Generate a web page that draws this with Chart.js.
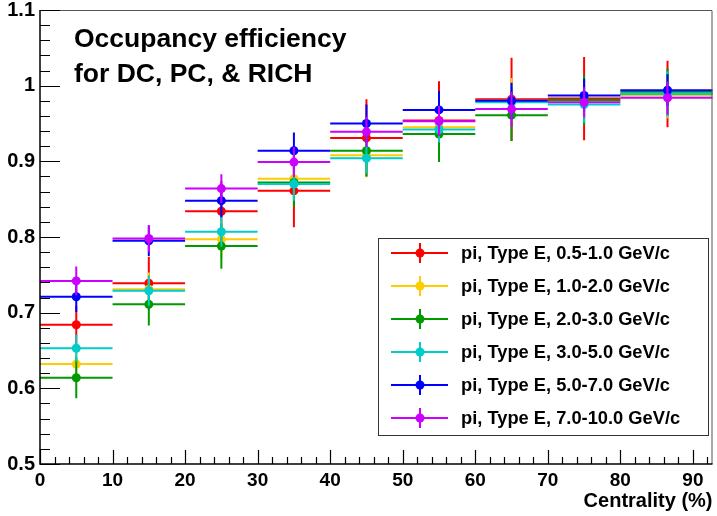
<!DOCTYPE html>
<html>
<head>
<meta charset="utf-8">
<script src="https://cdn.jsdelivr.net/npm/chart.js@4.4.1/dist/chart.umd.min.js"></script>
<style>
  html, body { margin: 0; padding: 0; background: #fff; }
</style>
</head>
<body>
<canvas id="occEff" width="717" height="516"></canvas>
<script>
// centrality bins
const centrality = [5, 15, 25, 35, 45, 55, 65, 75, 86.5];
const binLow = [0, 10, 20, 30, 40, 50, 60, 70, 80];
const binHigh = [10, 20, 30, 40, 50, 60, 70, 80, 93];
const xTickValues = [0, 10, 20, 30, 40, 50, 60, 70, 80, 90];

const seriesLabels = [
    'pi, Type E, 0.5-1.0 GeV/c',
    'pi, Type E, 1.0-2.0 GeV/c',
    'pi, Type E, 2.0-3.0 GeV/c',
    'pi, Type E, 3.0-5.0 GeV/c',
    'pi, Type E, 5.0-7.0 GeV/c',
    'pi, Type E, 7.0-10.0 GeV/c'
];
const seriesColors = ['#ff0000', '#ffcc00', '#009900', '#00cccc', '#0000ff', '#cc00ff'];

// efficiency per pt bin
const eff05to1 = [0.684, 0.739, 0.834, 0.861, 0.931, 0.954, 0.982, 0.983, 0.989];
const eff1to2 = [0.632, 0.731, 0.797, 0.877, 0.908, 0.945, 0.980, 0.980, 0.987];
const eff2to3 = [0.614, 0.711, 0.788, 0.872, 0.914, 0.936, 0.961, 0.981, 0.992];
const eff3to5 = [0.653, 0.729, 0.807, 0.870, 0.904, 0.942, 0.978, 0.975, 0.989];
const eff5to7 = [0.721, 0.795, 0.848, 0.914, 0.950, 0.968, 0.980, 0.987, 0.994];
const eff7to10 = [0.742, 0.798, 0.864, 0.899, 0.939, 0.953, 0.969, 0.978, 0.984];

// statistical errors
const err05to1 = [0.025, 0.035, 0.040, 0.048, 0.051, 0.052, 0.055, 0.055, 0.044];
const err1to2 = [0.020, 0.022, 0.025, 0.028, 0.029, 0.030, 0.030, 0.030, 0.030];
const err2to3 = [0.027, 0.028, 0.030, 0.032, 0.034, 0.037, 0.034, 0.033, 0.031];
const err3to5 = [0.018, 0.020, 0.020, 0.022, 0.020, 0.017, 0.020, 0.024, 0.030];
const err5to7 = [0.020, 0.020, 0.022, 0.024, 0.025, 0.025, 0.024, 0.022, 0.021];
const err7to10 = [0.019, 0.018, 0.019, 0.020, 0.020, 0.020, 0.023, 0.020, 0.022];

const allEff = [eff05to1, eff1to2, eff2to3, eff3to5, eff5to7, eff7to10];
const allErr = [err05to1, err1to2, err2to3, err3to5, err5to7, err7to10];

const FONT = '"Liberation Sans", Arial, Helvetica, sans-serif';

const datasets = allEff.map((vals, i) => ({
    label: seriesLabels[i],
    data: vals.map((v, j) => ({
        x: centrality[j], y: v,
        xMin: binLow[j], xMax: binHigh[j],
        yMin: v - allErr[i][j], yMax: v + allErr[i][j]
    })),
    borderColor: seriesColors[i],
    backgroundColor: seriesColors[i],
    pointRadius: 4.5,
    pointHoverRadius: 4.5,
    pointBorderWidth: 0,
    showLine: false,
    order: allEff.length - i   // later series on top, like ROOT
}));

// error bars drawn just before each dataset's markers
const errorBars = {
    id: 'errorBars',
    beforeDatasetDraw(chart, args) {
        const ds = chart.data.datasets[args.index];
        const xs = chart.scales.x, ys = chart.scales.y;
        const ctx = chart.ctx, a = chart.chartArea;
        ctx.save();
        ctx.beginPath();
        ctx.rect(a.left, a.top, a.right - a.left, a.bottom - a.top);
        ctx.clip();
        ctx.strokeStyle = ds.borderColor;
        ctx.lineWidth = 2;
        ds.data.forEach(p => {
            const px = xs.getPixelForValue(p.x);
            const py = ys.getPixelForValue(p.y);
            ctx.beginPath();
            ctx.moveTo(xs.getPixelForValue(p.xMin), py);
            ctx.lineTo(xs.getPixelForValue(p.xMax), py);
            ctx.moveTo(px, ys.getPixelForValue(p.yMin));
            ctx.lineTo(px, ys.getPixelForValue(p.yMax));
            ctx.stroke();
        });
        ctx.restore();
    }
};

// ROOT style frame with inward ticks
const rootFrame = {
    id: 'rootFrame',
    afterDraw(chart) {
        const ctx = chart.ctx, a = chart.chartArea;
        const xs = chart.scales.x, ys = chart.scales.y;
        ctx.save();
        ctx.strokeStyle = '#555';
        ctx.lineWidth = 1;
        ctx.beginPath();
        ctx.moveTo(a.left, a.top + 0.5); ctx.lineTo(a.right - 0.5, a.top + 0.5);
        ctx.lineTo(a.right - 0.5, a.bottom);
        ctx.stroke();

        ctx.strokeStyle = '#000';
        ctx.lineWidth = 1.5;
        ctx.beginPath();
        ctx.moveTo(a.left, a.top); ctx.lineTo(a.left, a.bottom); ctx.lineTo(a.right, a.bottom);
        ctx.stroke();

        ctx.lineWidth = 1.2;
        ctx.beginPath();
        for (let v = 0; v <= xs.max + 1e-6; v += 2) {
            const px = Math.round(xs.getPixelForValue(v)) + 0.5;
            const len = (Math.round(v) % 10 === 0) ? 14 : 7;
            ctx.moveTo(px, a.bottom); ctx.lineTo(px, a.bottom - len);
        }
        for (let k = 0; k <= 30; k++) {
            const v = 0.5 + k * 0.02;
            const py = Math.round(ys.getPixelForValue(v)) + 0.5;
            const len = (k % 5 === 0) ? 20 : 10;
            ctx.moveTo(a.left, py); ctx.lineTo(a.left + len, py);
        }
        ctx.stroke();
        ctx.restore();
    }
};

// title text and boxed legend inside the plot
const annotations = {
    id: 'annotations',
    afterDraw(chart) {
        const ctx = chart.ctx;
        ctx.save();
        ctx.fillStyle = '#000';
        ctx.font = 'bold 26.5px ' + FONT;
        ctx.textBaseline = 'alphabetic';
        ctx.textAlign = 'left';
        ctx.fillText('Occupancy efficiency', 74, 47);
        ctx.fillText('for DC, PC, & RICH', 74, 82);

        const bx = 378.5, by = 238.5, bw = 330, bh = 197;
        ctx.fillStyle = '#fff';
        ctx.fillRect(bx, by, bw, bh);
        ctx.strokeStyle = '#333';
        ctx.lineWidth = 1;
        ctx.strokeRect(bx, by, bw, bh);

        ctx.font = 'bold 18.3px ' + FONT;
        ctx.textBaseline = 'middle';
        seriesLabels.forEach((lab, i) => {
            const cy = 253 + i * 33;
            const c = seriesColors[i];
            ctx.strokeStyle = c;
            ctx.lineWidth = 2;
            ctx.beginPath();
            ctx.moveTo(391, cy); ctx.lineTo(448, cy);
            ctx.moveTo(420, cy - 10); ctx.lineTo(420, cy + 10);
            ctx.stroke();
            ctx.fillStyle = c;
            ctx.beginPath();
            ctx.arc(420, cy, 4.5, 0, Math.PI * 2);
            ctx.fill();
            ctx.fillStyle = '#000';
            ctx.fillText(lab, 461, cy + 1);
        });
        ctx.restore();
    }
};

new Chart(document.getElementById('occEff'), {
    type: 'scatter',
    data: { datasets: datasets },
    options: {
        responsive: false,
        animation: false,
        events: [],
        layout: { padding: { top: 10, right: 1, left: 0, bottom: 0 } },
        plugins: {
            legend: { display: false },
            tooltip: { enabled: false }
        },
        scales: {
            x: {
                type: 'linear',
                min: 0,
                max: 92.7,
                grid: { display: false, drawTicks: false },
                border: { display: false },
                afterBuildTicks: s => { s.ticks = xTickValues.map(v => ({ value: v })); },
                afterFit: s => { s.height = 52; s.paddingLeft = 0; s.paddingRight = 0; },
                ticks: {
                    padding: 5,
                    maxRotation: 0,
                    autoSkip: false,
                    color: '#000',
                    font: { family: FONT, size: 19, weight: 'bold' }
                },
                title: {
                    display: true,
                    text: 'Centrality (%)',
                    align: 'end',
                    color: '#000',
                    padding: { top: 0, bottom: 3 },
                    font: { family: FONT, size: 20, weight: 'bold' }
                }
            },
            y: {
                min: 0.5,
                max: 1.1,
                grid: { display: false, drawTicks: false },
                border: { display: false },
                afterFit: s => { s.width = 40; s.paddingTop = 0; s.paddingBottom = 0; },
                ticks: {
                    stepSize: 0.1,
                    padding: 5,
                    color: '#000',
                    font: { family: FONT, size: 20, weight: 'bold' },
                    callback: v => parseFloat(v.toFixed(2)).toString()
                }
            }
        }
    },
    plugins: [errorBars, rootFrame, annotations]
});
</script>
</body>
</html>
